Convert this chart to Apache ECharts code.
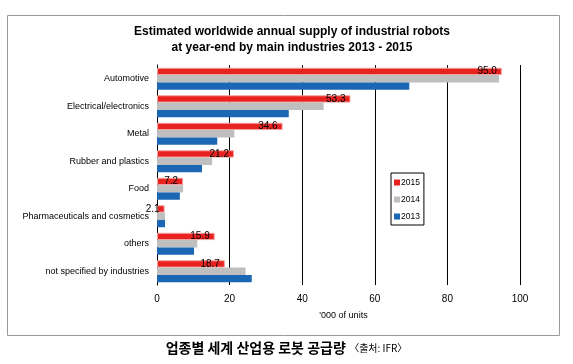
<!DOCTYPE html>
<html><head><meta charset="utf-8">
<script src="https://cdn.jsdelivr.net/npm/echarts@6/dist/echarts.min.js"></script>
<style>html,body{margin:0;padding:0;background:#fff}#c{width:573px;height:364px}</style>
</head><body><div id="c"></div>
<script>
const categories = ["Automotive","Electrical/electronics","Metal","Rubber and plastics","Food","Pharmaceuticals and cosmetics","others","not specified by industries"];
const s2015 = [95.0, 53.3, 34.6, 21.2, 7.2, 2.1, 15.9, 18.7];
const s2014 = [94.2, 45.9, 21.3, 15.2, 7.2, 2.2, 11.1, 24.4];
const s2013 = [69.5, 36.3, 16.6, 12.4, 6.3, 2.2, 10.2, 26.1];
const xTicks = {min: 0, max: 100, interval: 20};

const F = 'Arial, "Liberation Sans", sans-serif';
const chart = echarts.init(document.getElementById('c'));
chart.setOption({
  animation: false,
  textStyle: {fontFamily: F},
  title: {
    text: 'Estimated worldwide annual supply of industrial robots\nat year-end by main industries 2013 - 2015',
    left: 287, top: 19, textAlign: 'center',
    textStyle: {fontFamily: F, fontSize: 12, fontWeight: 'bold', color: '#000', lineHeight: 16}
  },
  legend: {
    orient: 'vertical', left: 391, top: 173,
    data: ['2015','2014','2013'],
    icon: 'rect', itemWidth: 6, itemHeight: 6, itemGap: 8,
    itemStyle: {borderWidth: 0},
    borderColor: '#000', borderWidth: 1, borderRadius: 0,
    padding: [5, 4, 4, 3],
    textStyle: {fontFamily: F, fontSize: 8.5, color: '#000', padding: [0,0,0,-4]}
  },
  grid: {left: 157, right: 53, top: 65, height: 220, containLabel: false},
  xAxis: {
    type: 'value', min: xTicks.min, max: xTicks.max, interval: xTicks.interval,
    name: "'000 of units", nameLocation: 'middle', nameGap: 26,
    nameTextStyle: {fontFamily: F, fontSize: 9, color: '#000', padding: [0,0,0,10]},
    axisLine: {show: false}, axisTick: {show: false},
    axisLabel: {fontFamily: F, fontSize: 10, color: '#000', margin: 9},
    splitLine: {show: true, lineStyle: {color: '#000', width: 1}}
  },
  yAxis: {
    type: 'category', data: categories, inverse: true,
    axisLine: {show: true, lineStyle: {color: '#000', width: 1}},
    axisTick: {show: false},
    axisLabel: {fontFamily: F, fontSize: 9, color: '#000', margin: 8}
  },
  series: [
    {name: '2015', type: 'bar', data: s2015, barGap: '0%', barCategoryGap: '20%',
     itemStyle: {color: '#e8231f', borderColor: '#f4a3a1', borderWidth: 1},
     label: {show: true, position: 'insideRight', distance: 5, color: '#000', fontSize: 10, fontFamily: F,
             formatter: p => p.value.toFixed(1)}},
    {name: '2014', type: 'bar', data: s2014, barGap: '0%', barCategoryGap: '20%',
     itemStyle: {color: '#bfbfbf'}},
    {name: '2013', type: 'bar', data: s2013, barGap: '0%', barCategoryGap: '20%',
     itemStyle: {color: '#1b67b4'}}
  ],
  graphic: [
    {type: 'rect', shape: {x: 7.5, y: 15.5, width: 552, height: 320}, style: {fill: null, stroke: '#9a9a9a', lineWidth: 1}, silent: true, z: -1},
    {type: 'text', left: 'center', top: 341, style: {
      text: '{a|업종별 세계 산업용 로봇 공급량} {b|〈출처: IFR〉}',
      rich: {
        a: {fontFamily: '"Noto Sans CJK KR", sans-serif', fontSize: 14, fontWeight: 'bold', fill: '#000'},
        b: {fontFamily: '"Noto Sans CJK KR", sans-serif', fontSize: 10, fill: '#000'}
      }}}
  ]
});
</script></body></html>
